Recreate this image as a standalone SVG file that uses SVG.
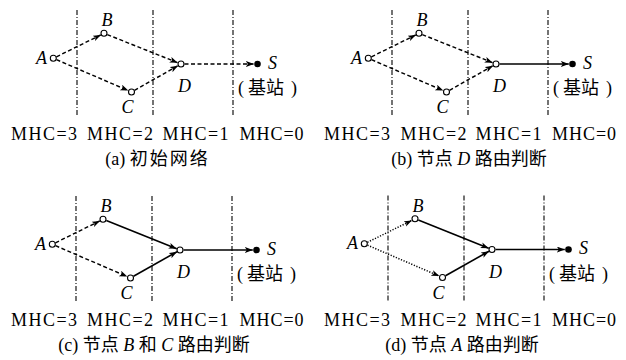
<svg xmlns="http://www.w3.org/2000/svg" width="626" height="360" viewBox="0 0 626 360">
<style>
.vl{stroke:#000;stroke-width:1.1;stroke-dasharray:5 2 1 2;fill:none}
.e{stroke:#000;fill:none;marker-end:url(#ah)}
.dash{stroke-width:1.45;stroke-dasharray:4 2.5}
.solid{stroke-width:1.6}
.dot{stroke-width:1.5;stroke-dasharray:1.2 1.6}
.n{fill:#fff;stroke:#000;stroke-width:1.1}
.s{fill:#000;stroke:none}
.lbl{font-family:"Liberation Serif",serif;font-style:italic;font-size:18px}
.mhc{font-family:"Liberation Serif",serif;font-size:18px;text-anchor:middle}
.bs{font-family:"Liberation Serif",serif;font-size:18px;text-anchor:start}
.cap{font-family:"Liberation Serif","Noto Sans CJK SC",serif;font-size:18px;text-anchor:middle}
.cjk{font-family:"Noto Sans CJK SC",sans-serif;font-size:18px}
.wide{letter-spacing:2px}
.it{font-style:italic}
</style>
<defs>
<marker id="ah" markerUnits="userSpaceOnUse" markerWidth="10" markerHeight="8" refX="8" refY="3" orient="auto">
<path d="M0,0 L8,3 L0,6 L2,3 Z" fill="#000"/>
</marker>
<g id="grid">
<line class="vl" x1="77" y1="10" x2="77" y2="117"/>
<line class="vl" x1="153" y1="10" x2="153" y2="117"/>
<line class="vl" x1="233" y1="10" x2="233" y2="117"/>
</g>
</defs>

<!-- Panel a -->
<g id="panel-a">
<use href="#grid"/>
<g id="a-connectors">
<line class="e dash" x1="56.4" y1="56.8" x2="100.9" y2="34.9"/>
<line class="e dash" x1="56.5" y1="59.7" x2="128.3" y2="90.6"/>
<line class="e dash" x1="107.3" y1="34.6" x2="177.7" y2="62.7"/>
<line class="e dash" x1="134.5" y1="90.3" x2="178" y2="65.7"/>
<line class="e dash" x1="184.5" y1="64" x2="253.8" y2="64"/>
</g>
<g id="a-A"><circle class="n" cx="53.3" cy="58.3" r="3"/><text class="lbl" x="47" y="63.5" text-anchor="end">A</text></g>
<g id="a-B"><circle class="n" cx="104" cy="33.3" r="3"/><text class="lbl" x="101.5" y="26">B</text></g>
<g id="a-C"><circle class="n" cx="131.5" cy="92" r="3"/><text class="lbl" x="121.5" y="113">C</text></g>
<g id="a-D"><circle class="n" cx="181" cy="64" r="3"/><text class="lbl" x="178" y="92">D</text></g>
<g id="a-S"><circle class="s" cx="257.5" cy="64" r="3.3"/><text class="lbl" x="268" y="68.5">S</text>
<text class="bs" y="94"><tspan x="238">(</tspan><tspan class="cjk" x="248">基站</tspan><tspan x="291">)</tspan></text></g>
</g>

<!-- Panel b -->
<g id="panel-b" transform="translate(315,0)">
<use href="#grid"/>
<g id="b-connectors">
<line class="e dash" x1="56.4" y1="56.8" x2="100.9" y2="34.9"/>
<line class="e dash" x1="56.5" y1="59.7" x2="128.3" y2="90.6"/>
<line class="e dash" x1="107.3" y1="34.6" x2="177.7" y2="62.7"/>
<line class="e dash" x1="134.5" y1="90.3" x2="178" y2="65.7"/>
<line class="e solid" x1="184.5" y1="64" x2="253.8" y2="64"/>
</g>
<g id="b-A"><circle class="n" cx="53.3" cy="58.3" r="3"/><text class="lbl" x="47" y="63.5" text-anchor="end">A</text></g>
<g id="b-B"><circle class="n" cx="104" cy="33.3" r="3"/><text class="lbl" x="101.5" y="26">B</text></g>
<g id="b-C"><circle class="n" cx="131.5" cy="92" r="3"/><text class="lbl" x="121.5" y="113">C</text></g>
<g id="b-D"><circle class="n" cx="181" cy="64" r="3"/><text class="lbl" x="178" y="92">D</text></g>
<g id="b-S"><circle class="s" cx="257.5" cy="64" r="3.3"/><text class="lbl" x="268" y="68.5">S</text>
<text class="bs" y="94"><tspan x="238">(</tspan><tspan class="cjk" x="248">基站</tspan><tspan x="291">)</tspan></text></g>
</g>

<!-- Panel c -->
<g id="panel-c" transform="translate(-1,186)">
<use href="#grid"/>
<g id="c-connectors">
<line class="e dash" x1="56.4" y1="56.8" x2="100.9" y2="34.9"/>
<line class="e dash" x1="56.5" y1="59.7" x2="128.3" y2="90.6"/>
<line class="e solid" x1="107.3" y1="34.6" x2="177.7" y2="62.7"/>
<line class="e solid" x1="134.5" y1="90.3" x2="178" y2="65.7"/>
<line class="e solid" x1="184.5" y1="64" x2="253.8" y2="64"/>
</g>
<g id="c-A"><circle class="n" cx="53.3" cy="58.3" r="3"/><text class="lbl" x="47" y="63.5" text-anchor="end">A</text></g>
<g id="c-B"><circle class="n" cx="104" cy="33.3" r="3"/><text class="lbl" x="101.5" y="26">B</text></g>
<g id="c-C"><circle class="n" cx="131.5" cy="92" r="3"/><text class="lbl" x="121.5" y="113">C</text></g>
<g id="c-D"><circle class="n" cx="181" cy="64" r="3"/><text class="lbl" x="178" y="92">D</text></g>
<g id="c-S"><circle class="s" cx="257.5" cy="64" r="3.3"/><text class="lbl" x="268" y="68.5">S</text>
<text class="bs" y="94"><tspan x="238">(</tspan><tspan class="cjk" x="248">基站</tspan><tspan x="291">)</tspan></text></g>
</g>

<!-- Panel d -->
<g id="panel-d" transform="translate(311,185.5)">
<use href="#grid"/>
<g id="d-connectors">
<line class="e dot" x1="56.4" y1="56.8" x2="100.9" y2="34.9"/>
<line class="e dot" x1="56.5" y1="59.7" x2="128.3" y2="90.6"/>
<line class="e solid" x1="107.3" y1="34.6" x2="177.7" y2="62.7"/>
<line class="e solid" x1="134.5" y1="90.3" x2="178" y2="65.7"/>
<line class="e solid" x1="184.5" y1="64" x2="253.8" y2="64"/>
</g>
<g id="d-A"><circle class="n" cx="53.3" cy="58.3" r="3"/><text class="lbl" x="47" y="63.5" text-anchor="end">A</text></g>
<g id="d-B"><circle class="n" cx="104" cy="33.3" r="3"/><text class="lbl" x="101.5" y="26">B</text></g>
<g id="d-C"><circle class="n" cx="131.5" cy="92" r="3"/><text class="lbl" x="121.5" y="113">C</text></g>
<g id="d-D"><circle class="n" cx="181" cy="64" r="3"/><text class="lbl" x="178" y="92">D</text></g>
<g id="d-S"><circle class="s" cx="257.5" cy="64" r="3.3"/><text class="lbl" x="268" y="68.5">S</text>
<text class="bs" y="94"><tspan x="238">(</tspan><tspan class="cjk" x="248">基站</tspan><tspan x="291">)</tspan></text></g>
</g>

<!-- MHC labels -->
<g id="mhc-labels">
<text class="mhc" x="44" y="140" textLength="66">MHC=3</text>
<text class="mhc" x="120" y="140" textLength="66">MHC=2</text>
<text class="mhc" x="195.5" y="140" textLength="66">MHC=1</text>
<text class="mhc" x="271.5" y="140" textLength="64">MHC=0</text>
<text class="mhc" x="357" y="140" textLength="66">MHC=3</text>
<text class="mhc" x="433.5" y="140" textLength="66">MHC=2</text>
<text class="mhc" x="508.5" y="140" textLength="66">MHC=1</text>
<text class="mhc" x="584" y="140" textLength="64">MHC=0</text>
<text class="mhc" x="44" y="326" textLength="66">MHC=3</text>
<text class="mhc" x="120" y="326" textLength="66">MHC=2</text>
<text class="mhc" x="195.5" y="326" textLength="66">MHC=1</text>
<text class="mhc" x="271.5" y="326" textLength="64">MHC=0</text>
<text class="mhc" x="357" y="326" textLength="66">MHC=3</text>
<text class="mhc" x="433.5" y="326" textLength="66">MHC=2</text>
<text class="mhc" x="508.5" y="326" textLength="66">MHC=1</text>
<text class="mhc" x="584" y="326" textLength="64">MHC=0</text>
</g>

<!-- Captions -->
<g id="captions">
<text class="cap" x="157.5" y="165">(a) <tspan class="cjk wide">初始网络</tspan></text>
<text class="cap" x="469" y="165">(b) <tspan class="cjk">节点</tspan> <tspan class="it">D</tspan> <tspan class="cjk">路由判断</tspan></text>
<text class="cap" x="154" y="351">(c) <tspan class="cjk">节点</tspan> <tspan class="it">B</tspan> <tspan class="cjk">和</tspan> <tspan class="it">C</tspan> <tspan class="cjk">路由判断</tspan></text>
<text class="cap" x="462" y="351">(d) <tspan class="cjk">节点</tspan> <tspan class="it">A</tspan> <tspan class="cjk">路由判断</tspan></text>
</g>
</svg>
